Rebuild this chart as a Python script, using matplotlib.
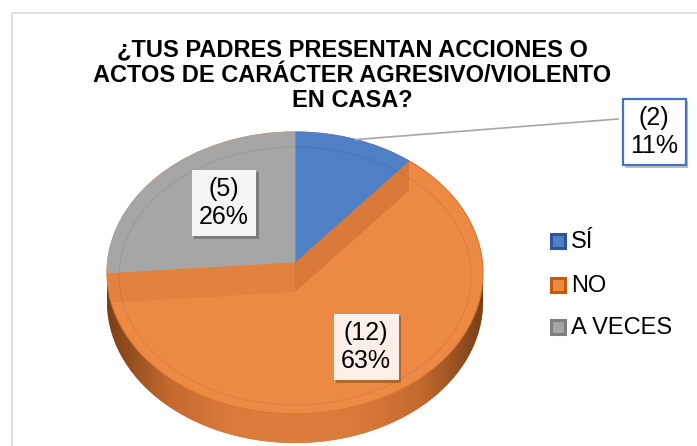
import numpy as np
import matplotlib
matplotlib.use('Agg')
import matplotlib.pyplot as plt
from matplotlib.patches import Polygon, Ellipse, Rectangle
from matplotlib.colors import LinearSegmentedColormap
import matplotlib.patheffects as pe

plt.rcParams['font.family'] = ['Liberation Sans', 'DejaVu Sans']

# ---------------- data ----------------
categories = ['SÍ', 'NO', 'A VECES']
counts = [2, 12, 5]
title = '¿TUS PADRES PRESENTAN ACCIONES O\nACTOS DE CARÁCTER AGRESIVO/VIOLENTO\nEN CASA?'

top_colors = ['#4f7fc4', '#ec8a45', '#a6a6a6']
legend_edge = ['#2f5597', '#c55a11', '#7f7f7f']

# ---------------- layout ----------------
W, H = 697, 446
fig = plt.figure(figsize=(W / 100, H / 100), dpi=100)
ax = fig.add_axes([0, 0, 1, 1])
ax.set_xlim(0, W)
ax.set_ylim(H, 0)
ax.axis('off')

cx, cy = 295, 273      # outline ellipse centre
rx, ry = 188, 141      # outline radii
vx, vy = 295, 262      # apex of the raised slices
ry_dir = 130
drop = 30              # the big slice sits lower
thick = 29             # pie thickness


def hit(phi):
    dx = np.sin(phi) * rx
    dy = -np.cos(phi) * ry_dir
    a = (dx / rx) ** 2 + (dy / ry) ** 2
    b = 2 * ((vx - cx) * dx / rx ** 2 + (vy - cy) * dy / ry ** 2)
    c = ((vx - cx) / rx) ** 2 + ((vy - cy) / ry) ** 2 - 1
    s = (-b + np.sqrt(b * b - 4 * a * c)) / (2 * a)
    return vx + dx * s, vy + dy * s


total = sum(counts)
fr = np.concatenate([[0], np.cumsum(counts) / total])
ang = 2 * np.pi * fr

# frame of chart area
ax.add_patch(Rectangle((12, 13), 800, 600, fill=False, ec='#d9d9d9', lw=1.2, zorder=0))

# --- side (extruded body) ---
t = np.linspace(0, 2 * np.pi, 400)
ex = cx + rx * np.sin(t)
ey = cy - ry * np.cos(t)
upper = [(x, y) for x, y, tt in zip(ex, ey, t) if (tt <= np.pi / 2 or tt >= 3 * np.pi / 2)]
upper = sorted(upper, key=lambda p: p[0])
lower = [(x, y + thick) for x, y, tt in zip(ex, ey, t) if np.pi / 2 <= tt <= 3 * np.pi / 2]
lower = sorted(lower, key=lambda p: -p[0])
side_poly = Polygon(upper + lower, closed=True, fc='#d87a3a', ec='none', zorder=1)
ax.add_patch(side_poly)
cmap = LinearSegmentedColormap.from_list('side', ['#7a4018', '#c46a2e', '#da7b3b', '#dd7e3e', '#da7b3b', '#c46a2e', '#7a4018'])
grad = np.linspace(0, 1, 256)[None, :]
im = ax.imshow(grad, extent=(cx - rx, cx + rx, cy + ry + thick + 2, cy - 5), cmap=cmap,
               aspect='auto', zorder=1.1, interpolation='bilinear')
im.set_clip_path(side_poly)
ax.set_xlim(0, W)
ax.set_ylim(H, 0)

# --- orange top (full outline) ---
outline = Ellipse((cx, cy), 2 * rx, 2 * ry, fc=top_colors[1], ec='#d9762f', lw=0.8, zorder=2)
ax.add_patch(outline)

# --- radial faces of the lowered slice ---
for k, col in [(1, '#d97a3a'), (2, '#e3813f')]:
    px, py = hit(ang[k])
    band = Polygon([(vx, vy), (px, py), (px, py + drop), (vx, vy + drop)], closed=True,
                   fc=col, ec='none', zorder=3)
    ax.add_patch(band)
    band.set_clip_path(outline)

# --- raised slices ---
for i in [0, 2]:
    phis = np.linspace(ang[i], ang[i + 1], 120)
    pts = [(vx, vy)] + [hit(p) for p in phis]
    ax.add_patch(Polygon(pts, closed=True, fc=top_colors[i], ec=top_colors[i], lw=0.6, zorder=4))

# bevel line
bev = Ellipse((cx, cy + 3), 2 * (rx - 12), 2 * (ry - 12), fill=False, ec='#000000', alpha=0.06, lw=1.0, zorder=5)
ax.add_patch(bev)
bev.set_clip_path(outline)

# ---------------- labels ----------------
shadow = [pe.withSimplePatchShadow(offset=(2, -2), shadow_rgbFace='#000000', alpha=0.25)]
lbl = lambda i: f'({counts[i]})\n{round(100 * counts[i] / total)}%'

t1 = ax.text(224, 203, lbl(2), ha='center', va='center', fontsize=18, zorder=10,
             bbox=dict(boxstyle='square,pad=0.3', fc='#f4f4f4', ec='none'))
t1.get_bbox_patch().set_path_effects(shadow)

t2 = ax.text(366, 347, lbl(1), ha='center', va='center', fontsize=18, zorder=10,
             bbox=dict(boxstyle='square,pad=0.3', fc='#fbefe8', ec='none'))
t2.get_bbox_patch().set_path_effects(shadow)

# leader for the small slice
sx, sy = hit((ang[0] + ang[1]) / 2)
ax.plot([sx, 618], [sy, 119], color='#a6a6a6', lw=1.2, zorder=9)
t3 = ax.text(654, 132, lbl(0), ha='center', va='center', fontsize=18, zorder=10,
             bbox=dict(boxstyle='square,pad=0.3', fc='white', ec='#4472c4', lw=1.6))
t3.get_bbox_patch().set_path_effects(shadow)

# title
ax.text(352, 75, title, ha='center', va='center', fontsize=17, fontweight='bold',
        linespacing=1.12, zorder=10)

# legend
rows = [241, 285, 327]
for i, cat in enumerate(categories):
    ax.add_patch(Rectangle((551, rows[i] - 7), 14, 14, fc=top_colors[i], ec=legend_edge[i], lw=2.2, zorder=10))
    ax.text(571, rows[i] + 1, cat, ha='left', va='center', fontsize=17, zorder=10)

fig.savefig('out.png', dpi=100)
